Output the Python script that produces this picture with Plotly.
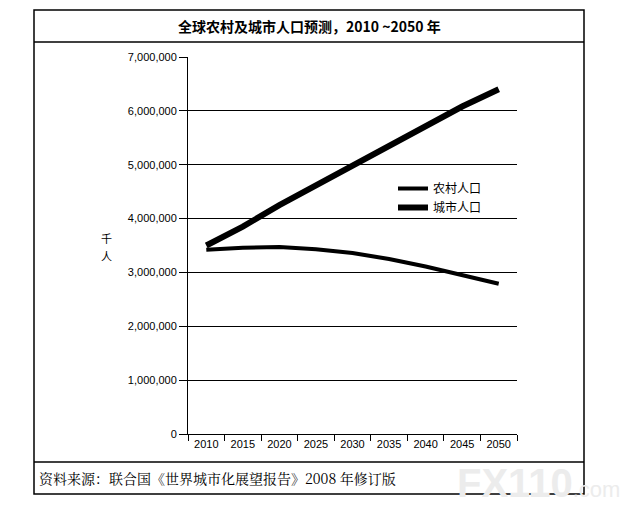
import plotly.graph_objects as go

# data (thousands of people)
years = ["2010", "2015", "2020", "2025", "2030", "2035", "2040", "2045", "2050"]
rural = [3420000, 3460000, 3470000, 3430000, 3360000, 3250000, 3110000, 2950000, 2790000]
urban = [3500000, 3850000, 4250000, 4610000, 4980000, 5350000, 5720000, 6080000, 6400000]
y_ticks = [0, 1000000, 2000000, 3000000, 4000000, 5000000, 6000000, 7000000]

W, H = 628, 527
L, R, T, B = 188, 517, 57, 434


def px_x(x):
    # pixel -> paper x
    return (x - L) / (R - L)


def px_y(y):
    return (B - y) / (B - T)


fig = go.Figure()
fig.add_trace(go.Scatter(x=years, y=rural, mode="lines", name="农村人口",
                         line=dict(color="black", width=4)))
fig.add_trace(go.Scatter(x=years, y=urban, mode="lines", name="城市人口",
                         line=dict(color="black", width=6)))

fig.update_layout(
    width=W, height=H,
    margin=dict(l=L, r=W - R, t=T, b=H - B, pad=0),
    paper_bgcolor="white", plot_bgcolor="white",
    font=dict(family="Liberation Sans, Arial", size=11, color="black"),
    showlegend=True,
    legend=dict(x=px_x(393), y=px_y(174), xanchor="left", yanchor="top",
                bgcolor="rgba(0,0,0,0)", font=dict(family="Noto Sans CJK SC", size=12),
                tracegroupgap=0, itemwidth=30),
)

fig.update_xaxes(type="category", range=[-0.5, 8.5], tickson="boundaries", ticks="outside",
                 ticklen=6, tickcolor="black", showline=True, linecolor="black", linewidth=1,
                 showgrid=False, tickfont=dict(size=11, family="Liberation Sans"),
                 fixedrange=True)
fig.update_yaxes(range=[0, 7000000], tickvals=y_ticks, tickformat=",d",
                 ticks="outside", ticklen=8, tickcolor="black",
                 showline=True, linecolor="black", linewidth=1,
                 showgrid=True, gridcolor="black", gridwidth=1, zeroline=False,
                 tickfont=dict(size=11, family="Liberation Sans"), fixedrange=True)

# frame around the figure, title band and source band
box_l, box_r, box_t, box_b = px_x(34), px_x(584), px_y(10), px_y(494)
frame = dict(type="line", xref="paper", yref="paper", line=dict(color="black", width=1.5))
fig.add_shape(type="rect", xref="paper", yref="paper", x0=box_l, x1=box_r, y0=box_b, y1=box_t,
              line=dict(color="black", width=1.5))
fig.add_shape(**frame, x0=box_l, x1=box_r, y0=px_y(42), y1=px_y(42))
fig.add_shape(**frame, x0=box_l, x1=box_r, y0=px_y(462), y1=px_y(462))

fig.add_annotation(text="<b>全球农村及城市人口预测，2010 ~2050 年</b>", xref="paper", yref="paper",
                   x=px_x(309), y=px_y(26), xanchor="center", yanchor="middle", showarrow=False,
                   font=dict(family="Noto Sans CJK SC", size=14, color="black"))
# vertical axis title, one character per line
for ch, yy in [("千", 238), ("人", 256)]:
    fig.add_annotation(text=ch, xref="paper", yref="paper",
                       x=px_x(106), y=px_y(yy), xanchor="center", yanchor="middle", showarrow=False,
                       font=dict(family="Noto Sans CJK SC", size=11, color="black"))
fig.add_annotation(text="资料来源：联合国《世界城市化展望报告》2008 年修订版", xref="paper", yref="paper",
                   x=px_x(37), y=px_y(478), xanchor="left", yanchor="middle", showarrow=False,
                   font=dict(family="Noto Serif CJK SC, Noto Sans CJK SC", size=14, color="black"))
# faint watermark
fig.add_annotation(text="<b>FX110</b><span style='font-size:22px'>.com</span>", xref="paper", yref="paper",
                   x=px_x(455), y=px_y(483), xanchor="left", yanchor="middle", showarrow=False,
                   font=dict(family="Liberation Sans", size=40, color="#ececec"))

fig.write_html("out.html", config={"displayModeBar": False},
               post_script="document.body.style.margin='0';")
